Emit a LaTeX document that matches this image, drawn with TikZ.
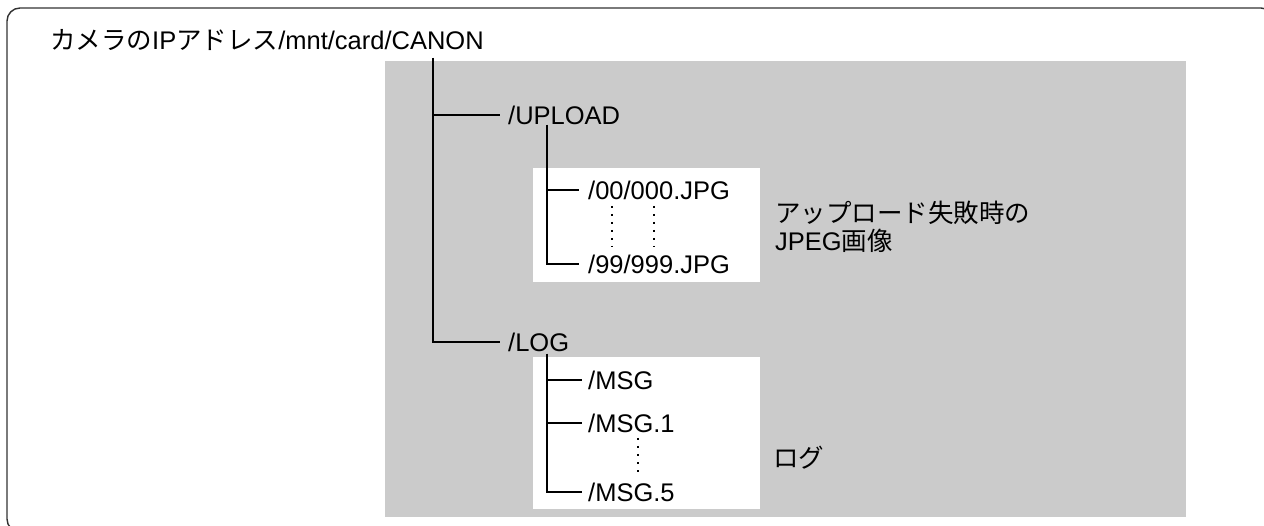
\documentclass[tikz,border=0pt]{standalone}
\usepackage{fontspec}
\setmainfont{Liberation Sans}
\newfontfamily\jp{Noto Sans CJK JP}
\definecolor{panelgray}{RGB}{203,203,203}
\definecolor{framegray}{RGB}{50,50,50}
\begin{document}
\begin{tikzpicture}[x=1pt,y=-1pt,
  lbl/.style={inner sep=0pt,anchor=west,font=\fontsize{25.5}{28}\selectfont},
  treeline/.style={line width=1.8pt,black},
  dotline/.style={line width=1.8pt,black,dash pattern=on 1.8pt off 6.2pt},
  framebox/.style={draw=framegray,line width=1.4pt,rounded corners=13pt}]
\useasboundingbox (0,0) rectangle (1264,526);
\begin{scope}
\clip (0,0) rectangle (1264,526);
\draw[framebox] (7,8) rectangle (1274,532);
\end{scope}
% panels
\fill[panelgray] (385,61) rectangle (1186,517);
\fill[white] (533,168) rectangle (760,282);
\fill[white] (533,357) rectangle (760,509);
% texts
\node[lbl,anchor=base west] (title) at (50,49.5) {{\jp カメラの}IP{\jp アドレス}/mnt/card/CANON};
\node[lbl] (upload) at (508,115) {/UPLOAD};
\node[lbl] (f00) at (588,190) {/00/000.JPG};
\node[lbl] (f99) at (588,264) {/99/999.JPG};
\node[lbl] (log) at (508,342) {/LOG};
\node[lbl] (msg) at (588,380) {/MSG};
\node[lbl] (msg1) at (588,423) {/MSG.1};
\node[lbl] (msg5) at (588,492) {/MSG.5};
\node[lbl,align=left,anchor=north west] (jpegnote) at (775,201) {{\jp アップロード失敗時の}\\JPEG{\jp 画像}};
\node[lbl] (lognote) at (773,458) {\jp ログ};
% tree coordinates
\coordinate (trunktop) at (433,58);
\coordinate (uptop) at (547,125);
\coordinate (logtop) at (547,354);
% tree lines
\draw[treeline] (trunktop) |- ([xshift=-8pt]upload.west);
\draw[treeline] (trunktop) |- ([xshift=-8pt]log.west);
\draw[treeline] (uptop) |- ([xshift=-9pt]f00.west);
\draw[treeline] (uptop) |- ([xshift=-9pt]f99.west);
\draw[treeline] (logtop) |- ([xshift=-6pt]msg.west);
\draw[treeline] (logtop) |- ([xshift=-6pt]msg1.west);
\draw[treeline] (logtop) |- ([xshift=-6pt]msg5.west);
% dotted continuation marks
\coordinate (d1a) at (612,206);
\coordinate (d1b) at (612,247);
\coordinate (d2a) at (654,206);
\coordinate (d2b) at (654,247);
\coordinate (d3a) at (638,438);
\coordinate (d3b) at (638,474);
\draw[dotline] (d1a) -- (d1b);
\draw[dotline] (d2a) -- (d2b);
\draw[dotline] (d3a) -- (d3b);
\end{tikzpicture}
\end{document}
